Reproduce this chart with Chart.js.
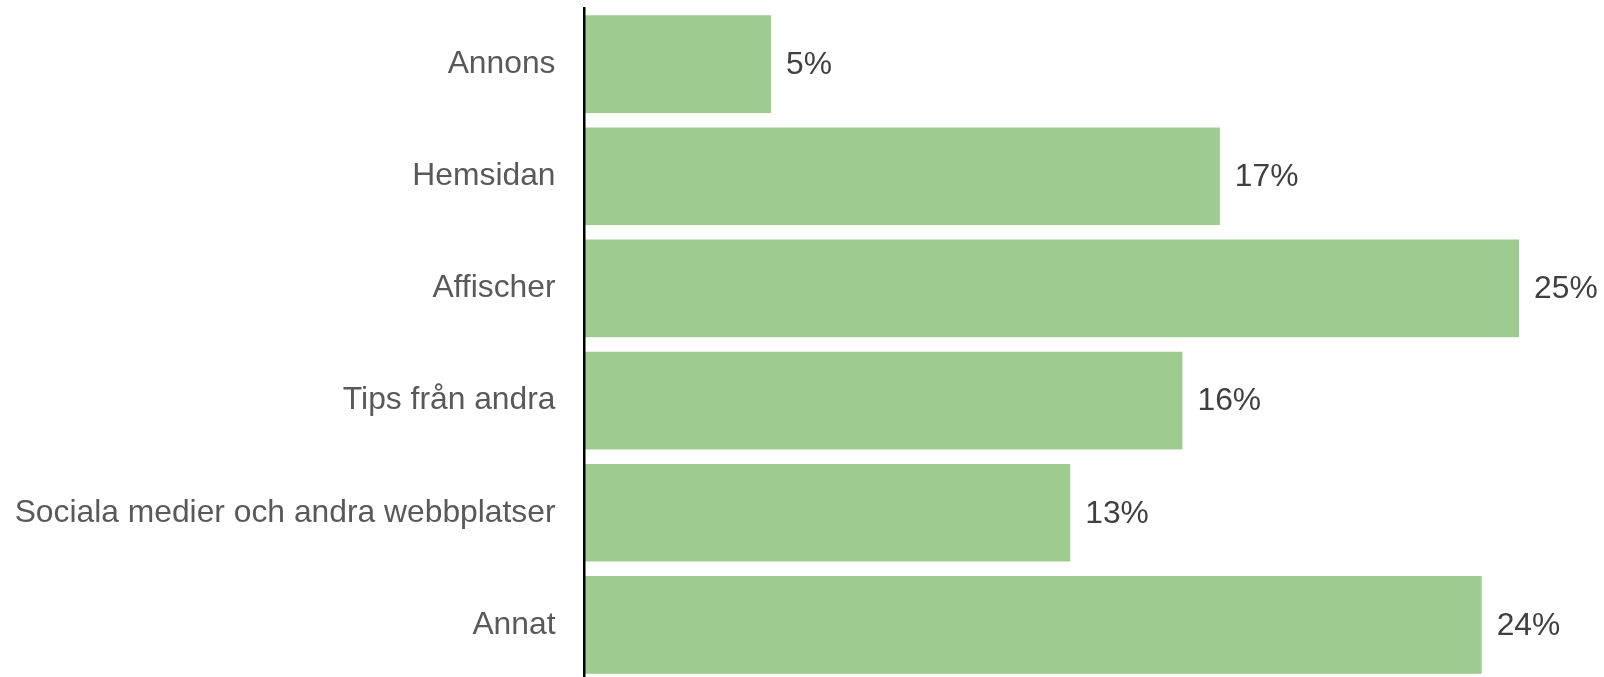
<!DOCTYPE html>
<html>
<head>
<meta charset="utf-8">
<script src="https://cdn.jsdelivr.net/npm/chart.js@4"></script>
<style>
  html, body { margin: 0; padding: 0; overflow: hidden; background: #fff; }
  #wrap { position: relative; width: 1604px; height: 681px; }
</style>
</head>
<body>
<div id="wrap"><canvas id="myChart"></canvas></div>
<script>
// kategorier och andelar (procent)
const kategorier = [
  "Annons",
  "Hemsidan",
  "Affischer",
  "Tips från andra",
  "Sociala medier och andra webbplatser",
  "Annat",
];
const andelar = [5, 17, 25, 16, 13, 24];
const etiketter = ["5%", "17%", "25%", "16%", "13%", "24%"];

const typsnitt = "'Liberation Sans', Arial, sans-serif";

// skriver ut procenten till höger om varje stapel
const vardeEtiketter = {
  id: "vardeEtiketter",
  afterDatasetsDraw(chart) {
    const ctx = chart.ctx;
    const meta = chart.getDatasetMeta(0);
    ctx.save();
    ctx.font = "31.8px " + typsnitt;
    ctx.fillStyle = "#404040";
    ctx.textAlign = "left";
    ctx.textBaseline = "middle";
    meta.data.forEach((bar, i) => {
      ctx.fillText(etiketter[i], bar.x + 15, bar.y + 1);
    });
    ctx.restore();
  },
};

const ctx = document.getElementById("myChart");
new Chart(ctx, {
  type: "bar",
  data: {
    labels: kategorier,
    datasets: [
      {
        data: andelar,
        backgroundColor: "#9ECC90",
        borderWidth: 0,
        barPercentage: 0.871,
        categoryPercentage: 1,
      },
    ],
  },
  options: {
    indexAxis: "y",
    responsive: true,
    maintainAspectRatio: false,
    animation: false,
    layout: { padding: { top: 8, right: 0, bottom: 0, left: 0 } },
    plugins: {
      legend: { display: false },
      tooltip: { enabled: false },
    },
    scales: {
      x: {
        display: false,
        min: 0,
        max: 27.27,
      },
      y: {
        // fast bredd och ingen extra luft upptill/nedtill
        afterFit: (s) => {
          s.width = 584;
          s.paddingTop = 0;
          s.paddingBottom = 0;
        },
        grid: { display: false, drawTicks: false },
        // axellinjen ritas ovanpå staplarna
        border: { display: true, color: "#000", width: 2.5, z: 1 },
        ticks: {
          padding: 28.5,
          color: "#595959",
          font: { family: typsnitt, size: 31.8 },
        },
      },
    },
  },
  plugins: [vardeEtiketter],
});
</script>
</body>
</html>
